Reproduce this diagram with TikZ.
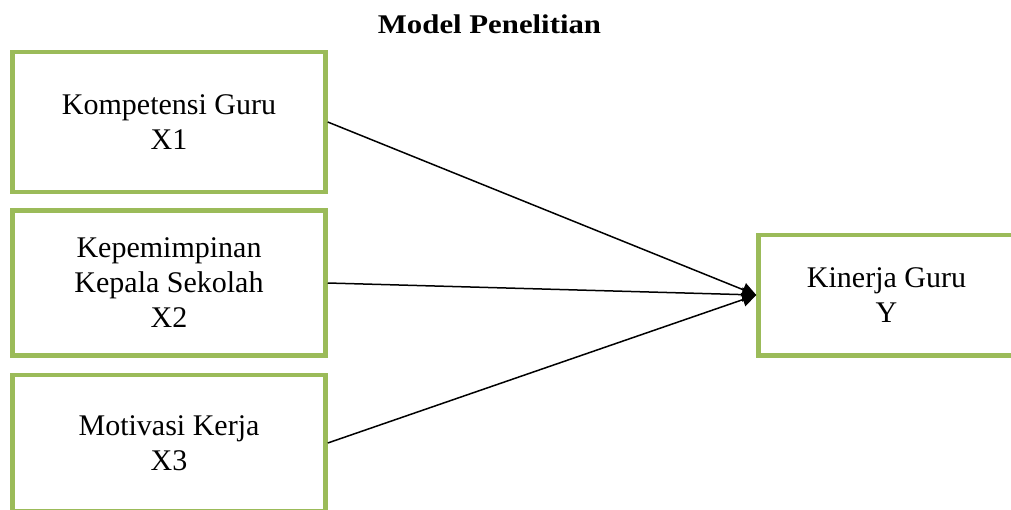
\documentclass[tikz,border=0pt]{standalone}
\usepackage{fontspec}
\setmainfont{Liberation Serif}
\usetikzlibrary{arrows.meta}
\definecolor{boxgreen}{RGB}{155,187,89}
\begin{document}
\begin{tikzpicture}[x=1pt,y=-1pt,
  varbox/.style={draw=boxgreen, line width=4.5pt, fill=white, align=center,
    font=\fontsize{30}{35}\selectfont, inner sep=0pt},
  link/.style={line width=1.5pt, -{Triangle[length=14pt,width=14pt]}}]
\useasboundingbox (0,0) rectangle (1011,509);
\node[anchor=base, font=\bfseries\fontsize{27}{32}\selectfont] (title) at (489.5,33) {\scalebox{1.14}[1]{Model Penelitian}};
\node[varbox, minimum width=313pt, minimum height=140pt] (x1) at (169,122) {Kompetensi Guru\\X1};
\node[varbox, minimum width=313pt, minimum height=145pt] (x2) at (169,283) {Kepemimpinan\\Kepala Sekolah\\X2};
\node[varbox, minimum width=313pt, minimum height=136pt] (x3) at (169,443) {Motivasi Kerja\\X3};
\node[varbox, minimum width=256pt, minimum height=120.5pt] (y) at (886.5,295) {Kinerja Guru\\Y};
\draw[link] (x1.east) -- (y.west);
\draw[link] (x2.east) -- (y.west);
\draw[link] (x3.east) -- (y.west);
\end{tikzpicture}
\end{document}
